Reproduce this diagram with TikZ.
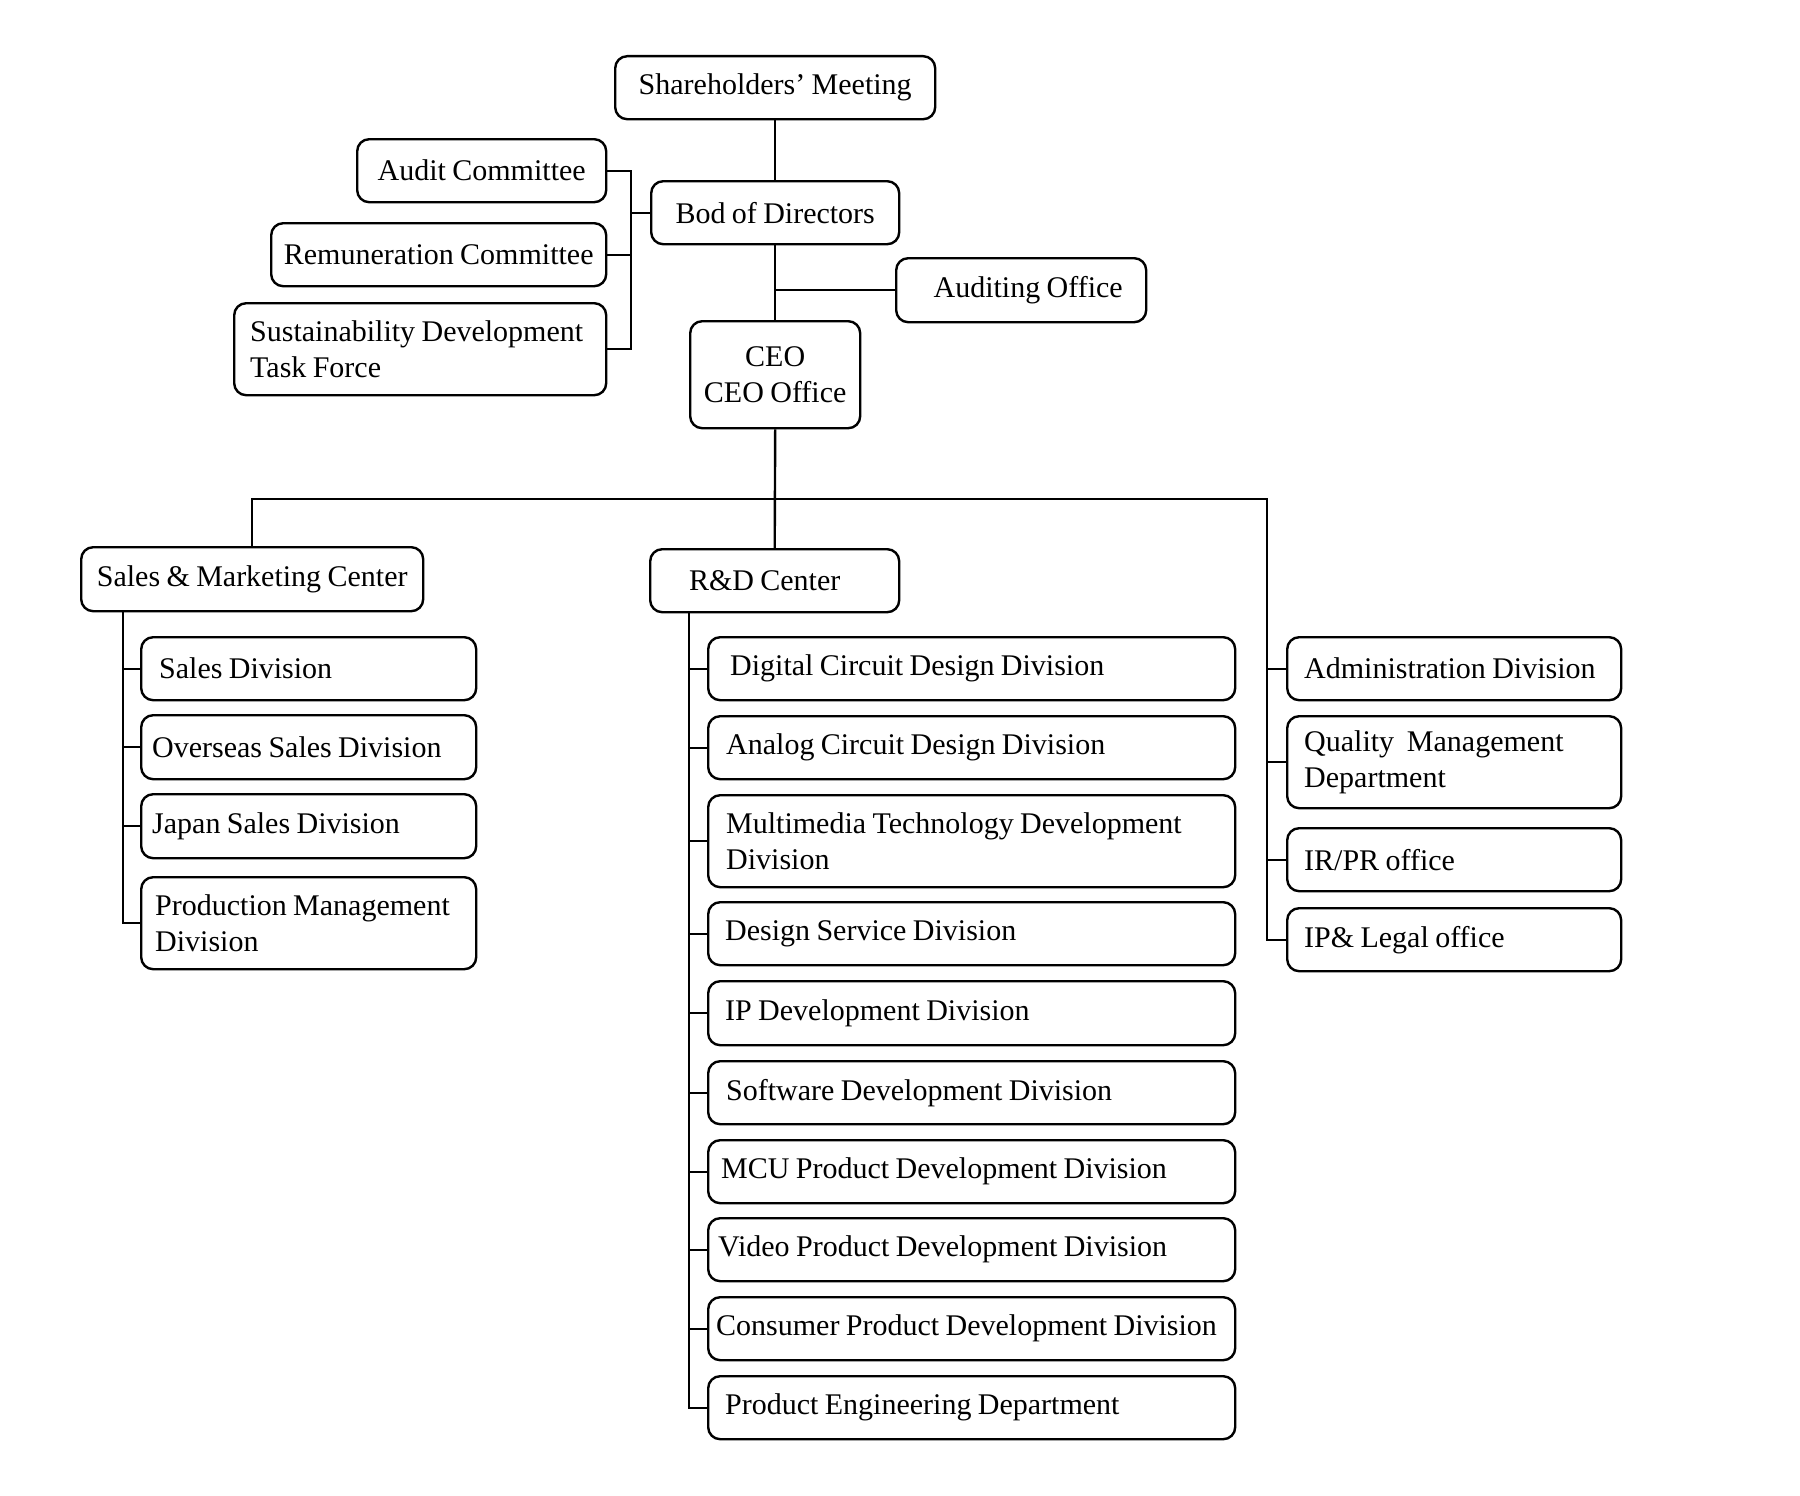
\documentclass[tikz,border=0pt]{standalone}
\usepackage{fontspec}
\setmainfont{Liberation Serif}[WordSpace=0.85]
\tikzset{
  box/.style={draw, line width=2.4pt, rounded corners=12pt, anchor=north west, inner ysep=0pt, font=\fontsize{30}{36}\selectfont},
  conn/.style={line width=2.4pt},
}
% name x y w h text
\newcommand\cbox[6]{\node[box, minimum width=#4pt, minimum height=#5pt, align=center, inner xsep=2pt] (#1) at (#2,#3) {#6};}
% name x y w h pad textwidth text
\newcommand\lbox[8]{\node[box, minimum width=#4pt, minimum height=#5pt, inner xsep=#6pt, text width=#7pt, align=flush left] (#1) at (#2,#3) {#8};}
\begin{document}
\begin{tikzpicture}[x=1pt,y=-1pt]
\path[use as bounding box, fill=white] (0,0) rectangle (1800,1496);
% top
\cbox{sh}{614}{55}{320}{63}{Shareholders’ Meeting}
\cbox{bod}{650}{180}{248}{63}{Bod of Directors}
\cbox{ac}{356}{138}{249}{63}{Audit Committee}
\cbox{rc}{270}{222}{335}{63}{Remuneration Committee}
\lbox{sus}{233}{302}{372}{92}{16}{340}{Sustainability Development\\Task Force}
\cbox{ao}{895}{257}{250}{64}{\hspace*{14pt}Auditing Office}
\cbox{ceo}{689}{320}{170}{107}{CEO\\CEO Office}
% centers
\cbox{sm}{80}{546}{342}{64}{Sales \& Marketing Center}
\cbox{rd}{649}{548}{249}{63}{R\&D Center\hspace*{20pt}}
% sales subs
\lbox{sd}{140}{636}{335}{63}{18}{299}{Sales Division}
\lbox{os}{140}{714}{335}{64}{11}{313}{Overseas Sales Division}
\lbox{js}{140}{793}{335}{64}{11}{313}{Japan Sales Division}
\lbox{pm}{140}{876}{335}{92}{14}{307}{Production Management\\Division}
% R&D subs
\lbox{dc}{707}{636}{527}{63}{22}{483}{Digital Circuit Design Division}
\lbox{an}{707}{715}{527}{63}{18}{491}{Analog Circuit Design Division}
\lbox{mm}{707}{794}{527}{92}{18}{491}{Multimedia Technology Development\\Division}
\lbox{ds}{707}{901}{527}{63}{17}{493}{Design Service Division}
\lbox{ip}{707}{980}{527}{64}{17}{493}{IP Development Division}
\lbox{sw}{707}{1060}{527}{63}{18}{491}{Software Development Division}
\lbox{mcu}{707}{1139}{527}{63}{13}{501}{MCU Product Development Division}
\lbox{vid}{707}{1217}{527}{63}{10}{507}{Video Product Development Division}
\lbox{con}{707}{1296}{527}{63}{8}{511}{\mbox{Consumer Product Development Division}}
\lbox{pe}{707}{1375}{527}{63}{17}{493}{Product Engineering Department}
% right column
\lbox{adm}{1286}{636}{334}{63}{17}{300}{Administration Division}
\lbox{qm}{1286}{715}{334}{92}{17}{300}{Quality~ Management\\Department}
\lbox{ir}{1286}{827}{334}{63}{17}{300}{IR/PR office}
\lbox{ipl}{1286}{907}{334}{63}{17}{300}{IP\& Legal office}
% connectors
\coordinate (cb) at (631,170);
\coordinate (busR) at (1267,499);
\coordinate (ls) at (123,610);
\coordinate (rs) at (689,611);
\draw[conn] (sh.south) -- (bod.north);
\draw[conn] (bod.south) -- (ceo.north);
\draw[conn] (ao.west) -- (ao.west -| ceo.north);
\draw[conn] (ac.east) -| (cb |- sus.east) -- (sus.east);
\draw[conn] (rc.east) -- (rc.east -| cb);
\draw[conn] (bod.west) -- (bod.west -| cb);
\draw[conn] (ceo.south) -- (rd.north);
\draw[conn] (sm.north) |- (busR) -- (ipl.west -| busR) -- (ipl.west);
\foreach \n in {adm,qm,ir} \draw[conn] (\n.west -| busR) -- (\n.west);
\draw[conn] (ls) |- (pm.west);
\foreach \n in {sd,os,js} \draw[conn] (ls |- \n.west) -- (\n.west);
\draw[conn] (rs) |- (pe.west);
\foreach \n in {dc,an,mm,ds,ip,sw,mcu,vid,con} \draw[conn] (rs |- \n.west) -- (\n.west);
\end{tikzpicture}
\end{document}
